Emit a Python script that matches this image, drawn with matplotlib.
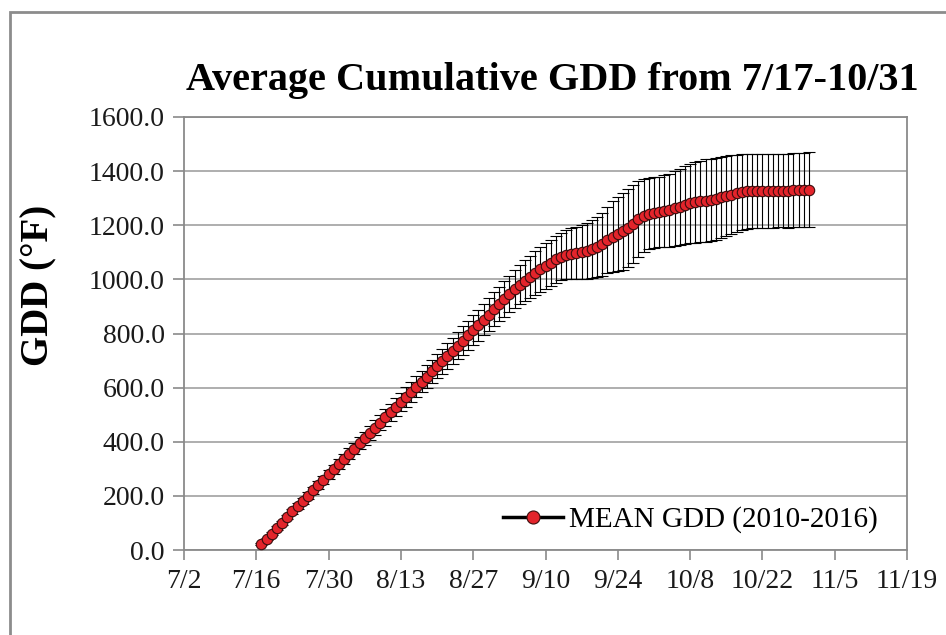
import datetime as dt
import matplotlib
matplotlib.use("Agg")
import matplotlib.pyplot as plt
from matplotlib.patches import Rectangle

# daily mean cumulative GDD, 7/17 .. 10/31
gdd = [22, 40, 60, 81, 101, 122, 143, 163, 182, 201,
       220, 240, 259, 279, 298, 317, 337, 356, 375, 394,
       413, 432, 452, 471, 490, 509, 528, 547, 566, 585,
       604, 622, 641, 660, 679, 698, 717, 736, 755, 774,
       793, 812, 831, 851, 870, 890, 909, 928, 946, 963,
       980, 995, 1010, 1024, 1037, 1050, 1062, 1074, 1084, 1091,
       1095, 1098, 1101, 1106, 1112, 1119, 1130, 1145, 1158, 1168,
       1178, 1190, 1205, 1222, 1236, 1243, 1247, 1250, 1253, 1256,
       1262, 1268, 1275, 1281, 1285, 1288, 1291, 1294, 1298, 1303,
       1308, 1313, 1318, 1322, 1325, 1326, 1326, 1327, 1327, 1327,
       1328, 1328, 1328, 1329, 1329, 1330, 1331]

# half width of the error bars
err = [3, 4, 5, 6, 7, 8, 9, 10, 11, 12,
       13, 14, 15, 16, 17, 18, 19, 20, 21, 22,
       24, 25, 27, 28, 30, 31, 33, 34, 36, 37,
       39, 40, 42, 43, 45, 46, 48, 49, 51, 52,
       54, 55, 57, 58, 60, 62, 64, 66, 68, 70,
       72, 75, 78, 80, 82, 84, 85, 86, 88, 90,
       93, 97, 100, 104, 108, 112, 117, 123, 130, 136,
       142, 145, 143, 140, 135, 132, 130, 130, 132, 135,
       138, 141, 144, 147, 149, 151, 152, 152, 151, 150,
       148, 146, 143, 140, 138, 137, 137, 136, 136, 136,
       136, 136, 137, 137, 137, 138, 138]

start = dt.date(2016, 7, 17)
days = [start + dt.timedelta(days=i) for i in range(len(gdd))]

y_ticks = [0, 200, 400, 600, 800, 1000, 1200, 1400, 1600]
title = "Average Cumulative GDD from 7/17-10/31"
ylabel = "GDD (°F)"
series_name = "MEAN GDD (2010-2016)"

plt.rcParams['font.family'] = ['Liberation Serif', 'DejaVu Serif']

fig = plt.figure(figsize=(9.46, 6.35), dpi=100)
ax = fig.add_axes([184/946, 1-550/635, (907-184)/946, (550-117)/635])

ax.errorbar(days, gdd, yerr=err, fmt='none', ecolor='black',
            elinewidth=0.8, capsize=4, capthick=0.8, zorder=2)
ax.plot(days, gdd, color='black', lw=2.5, marker='o', ms=7.5,
        mfc='#e3242b', mec='#3a0d0d', mew=0.8, label=series_name, zorder=3)

# ticks every 14 days from 7/2
ticks = [dt.date(2016, 7, 2) + dt.timedelta(days=14*k) for k in range(11)]
ax.set_xlim(ticks[0], ticks[-1])
ax.set_xticks(ticks)
ax.set_xticklabels([f"{d.month}/{d.day}" for d in ticks])
ax.set_ylim(0, 1600)
ax.set_yticks(y_ticks)
ax.set_yticklabels([f"{v:.1f}" for v in y_ticks])

ax.grid(axis='y', color='#a8a8a8', lw=1.3)
ax.set_axisbelow(True)
for s in ax.spines.values():
    s.set_color('#8a8a8a')
    s.set_linewidth(1.3)
ax.tick_params(axis='both', colors='#8a8a8a', labelcolor='#1a1a1a',
               labelsize=20, width=1.2)
ax.tick_params(axis='y', length=8, pad=6)
ax.tick_params(axis='x', length=7.5, pad=6)

ax.legend(loc='center right', bbox_to_anchor=(0.975, 0.07),
          frameon=False, fontsize=21, handlelength=2.05,
          handletextpad=0.2, borderaxespad=0, markerscale=1.25)

fig.text(552/946, 1-90/635, title, ha='center', va='baseline',
         fontsize=29, fontweight='bold')
fig.text(39/946, 1-285/635, ylabel, ha='center', va='center',
         rotation=90, fontsize=28, fontweight='bold')

# grey frame round the chart area
fig.patches.append(Rectangle((10/946, -0.05), 1.0, 1-12/635+0.05,
                             transform=fig.transFigure, fill=False,
                             ec='#8c8c8c', lw=2))

fig.savefig("out.png", dpi=100)
